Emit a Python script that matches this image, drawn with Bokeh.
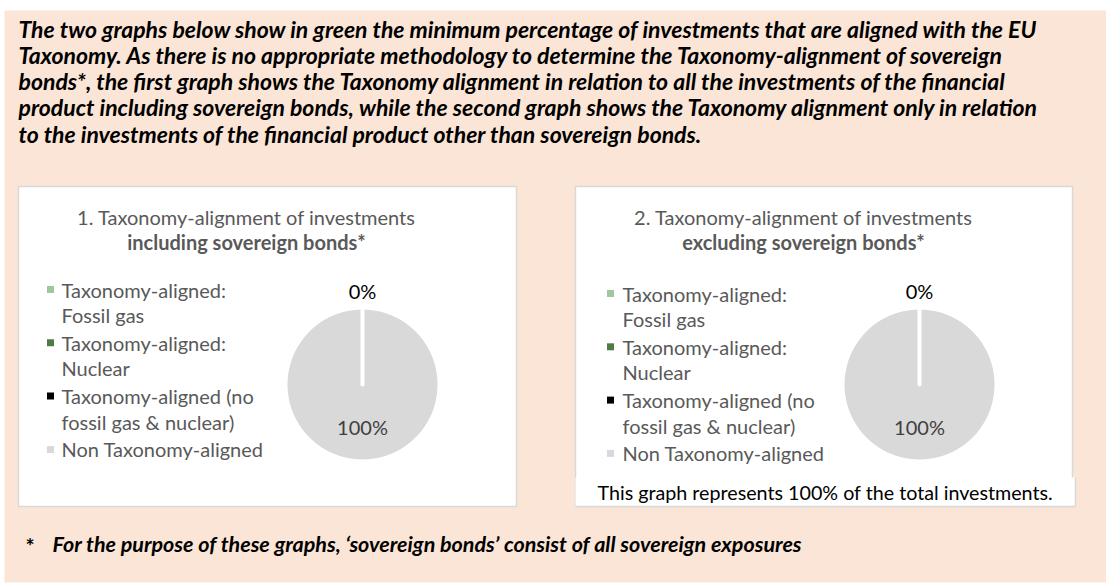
import math
from bokeh.plotting import figure
from bokeh.models import Range1d
from bokeh.core.properties import value
from bokeh.embed import file_html
from bokeh.resources import INLINE

# ---------------- data ----------------
header_lines = [
    "The two graphs below show in green the minimum percentage of investments that are aligned with the EU",
    "Taxonomy. As there is no appropriate methodology to determine the Taxonomy-alignment of sovereign",
    "bonds*, the first graph shows the Taxonomy alignment in relation to all the investments of the financial",
    "product including sovereign bonds, while the second graph shows the Taxonomy alignment only in relation",
    "to the investments of the financial product other than sovereign bonds.",
]
chart_titles = [
    ("1. Taxonomy-alignment of investments", "including sovereign bonds*"),
    ("2. Taxonomy-alignment of investments", "excluding sovereign bonds*"),
]
categories = [
    ["Taxonomy-aligned:", "Fossil gas"],
    ["Taxonomy-aligned:", "Nuclear"],
    ["Taxonomy-aligned (no", "fossil gas & nuclear)"],
    ["Non Taxonomy-aligned"],
]
colors = ["#9DC79C", "#4F7C45", "#000000", "#D9D9D9"]
values_incl = [0, 0, 0, 100]
values_excl = [0, 0, 0, 100]
note_text = "This graph represents 100% of the total investments."
footnote_star = "*"
footnote_text = "For the purpose of these graphs, \u2018sovereign bonds\u2019 consist of  all sovereign exposures"

# ---------------- layout ----------------
W, H = 1106, 585
FONT = value("Lato")
PEACH = "#FBE5D6"
GREY_TXT = "#595959"


def Y(py):
    return H - py


p = figure(width=W, height=H, output_backend="svg", toolbar_location=None,
           x_range=Range1d(0, W), y_range=Range1d(0, H), min_border=0)
p.axis.visible = False
p.grid.visible = False
p.outline_line_color = None
p.background_fill_color = "white"
p.border_fill_color = "white"

# peach background
p.quad(left=[4], right=[W], top=[Y(10)], bottom=[Y(582)], fill_color=PEACH, line_color=None)

# header text
p.text(x=[18] * len(header_lines), y=[Y(28 + 26.3 * i) for i in range(len(header_lines))],
       text=header_lines, text_font=FONT, text_font_size="23px", text_font_style="bold italic",
       text_color="black", text_baseline="middle", text_align="left")

# white chart boxes
box_left = [18, 575]
box_right = [516, 1072]
p.quad(left=box_left, right=box_right, top=[Y(186)] * 2, bottom=[Y(506)] * 2,
       fill_color="white", line_color="#D9D9D9", line_width=1.5)
# note box under 2nd chart
p.quad(left=[575], right=[1075], top=[Y(477)], bottom=[Y(506)], fill_color="white", line_color=None)
p.segment(x0=[575, 1075], y0=[Y(506), Y(477)], x1=[1075, 1075], y1=[Y(506), Y(506)],
          line_color="#D9D9D9", line_width=1.5)
p.text(x=[597], y=[Y(492)], text=[note_text], text_font=FONT, text_font_size="19.7px",
       text_color="black", text_baseline="middle", text_align="left")

# charts
chart_specs = [
    dict(vals=values_incl, title_cx=246, pie_cx=362, leg_mx=50, leg_tx=61, leg_y0=289),
    dict(vals=values_excl, title_cx=803, pie_cx=919, leg_mx=610, leg_tx=622, leg_y0=293),
]
PIE_CY = 384
R = 75
EPS = 1e-3

for k, spec in enumerate(chart_specs):
    t1, t2 = chart_titles[k]
    p.text(x=[spec["title_cx"]], y=[Y(216)], text=[t1], text_font=FONT, text_font_size="20px",
           text_color=GREY_TXT, text_baseline="middle", text_align="center")
    p.text(x=[spec["title_cx"]], y=[Y(241)], text=[t2], text_font=FONT, text_font_size="20px",
           text_font_style="bold", text_color=GREY_TXT, text_baseline="middle", text_align="center")

    # legend
    mx, my, lx, ly, lt = [], [], [], [], []
    y = spec["leg_y0"]
    for cat in categories:
        mx.append(spec["leg_mx"]); my.append(Y(y))
        for j, line in enumerate(cat):
            lx.append(spec["leg_tx"]); ly.append(Y(y + 25.5 * j)); lt.append(line)
        y += 53.3
    p.scatter(x=mx, y=my, marker="square", size=7, fill_color=colors, line_color=None)
    p.text(x=lx, y=ly, text=lt, text_font=FONT, text_font_size="20px", text_color=GREY_TXT,
           text_baseline="middle", text_align="left")

    # pie
    vals = spec["vals"]
    total = float(sum(vals))
    starts, ends, cum = [], [], 0.0
    for v in vals:
        a0 = math.pi / 2 - 2 * math.pi * cum / total
        cum += v
        a1 = math.pi / 2 - 2 * math.pi * cum / total
        starts.append(a0); ends.append(a1)
    nz = [i for i, v in enumerate(vals) if v > 0]
    w_start = [starts[i] for i in nz]
    # a slice covering the whole pie is drawn as a (nearly) full sweep
    w_end = [max(ends[i], starts[i] - 2 * math.pi + EPS) for i in nz]
    p.wedge(x=[spec["pie_cx"]] * len(nz), y=[Y(PIE_CY)] * len(nz), radius=R,
            radius_units="screen", start_angle=w_start, end_angle=w_end, direction="clock",
            fill_color=[colors[i] for i in nz], line_color=None)
    # white slice borders
    b_angles = sorted(set(round(a % (2 * math.pi), 9) for a in starts))
    cx, cyp = spec["pie_cx"], PIE_CY
    p.segment(x0=[cx] * len(b_angles), y0=[Y(cyp)] * len(b_angles),
              x1=[cx + (R + 1) * math.cos(a) for a in b_angles],
              y1=[Y(cyp - (R + 1) * math.sin(a)) for a in b_angles],
              line_color="white", line_width=4, line_cap="round")

    # data labels
    seen = set()
    labx, laby, labt, labc = [], [], [], []
    for v, a0, a1 in zip(vals, starts, ends):
        mid = (a0 + a1) / 2
        if v == 0:
            rr, col = R + 19, "black"
        else:
            rr, col = R * 0.57, "#404040"
        px = spec["pie_cx"] + rr * math.cos(mid)
        py = PIE_CY - rr * math.sin(mid)
        key = (round(px), round(py))
        if key in seen:
            continue
        seen.add(key)
        labx.append(px); laby.append(Y(py)); labt.append(f"{v}%"); labc.append(col)
    p.text(x=labx, y=laby, text=labt, text_color=labc, text_font=FONT, text_font_size="20px",
           text_baseline="middle", text_align="center")

# footnote
p.text(x=[25], y=[Y(545)], text=[footnote_star], text_font=FONT, text_font_size="21.5px",
       text_font_style="bold", text_color="black", text_baseline="middle", text_align="left")
p.text(x=[52], y=[Y(543)], text=[footnote_text], text_font=FONT, text_font_size="21.5px",
       text_font_style="bold italic", text_color="black", text_baseline="middle", text_align="left")

open("out.html", "w").write(file_html(p, INLINE))
